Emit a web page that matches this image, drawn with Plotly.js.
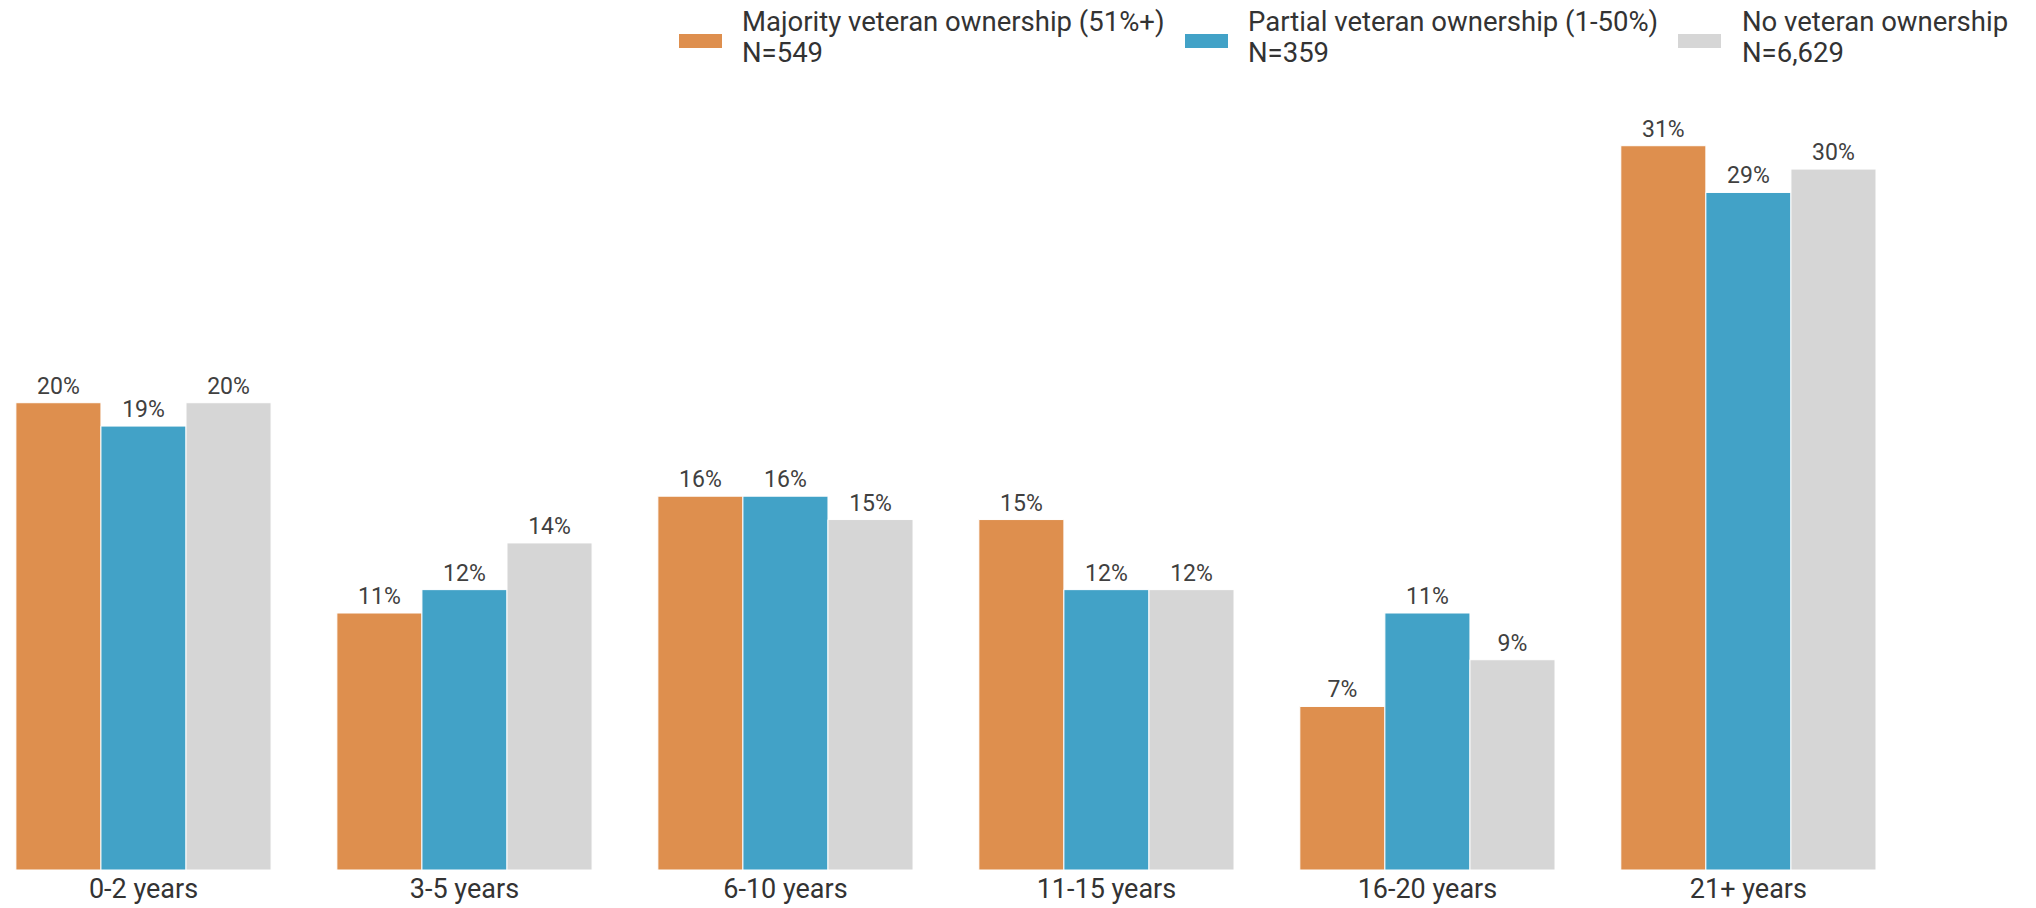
<!DOCTYPE html>
<html>
<head>
<meta charset="utf-8">
<script src="https://cdn.plot.ly/plotly-3.0.1.min.js"></script>
<style>html,body{margin:0;padding:0;background:#fff;}#chart{width:2036px;height:908px;}</style>
</head>
<body>
<div id="chart"></div>
<script>
const categories = ["0-2 years", "3-5 years", "6-10 years", "11-15 years", "16-20 years", "21+ years"];
const seriesNames = ["Majority veteran ownership (51%+)", "Partial veteran ownership (1-50%)", "No veteran ownership"];
const seriesN = ["N=549", "N=359", "N=6,629"];
const majorityValues = [20, 11, 16, 15, 7, 31];
const partialValues = [19, 12, 16, 12, 11, 29];
const noneValues = [20, 14, 15, 12, 9, 30];
const seriesColors = ["#DE8F4E", "#42A2C7", "#D6D6D6"];

const W = 2036, H = 908;
const marginT = 99, marginB = 38;
const plotH = H - marginT - marginB;
const yMax = 33;

const allValues = [majorityValues, partialValues, noneValues];
const traces = allValues.map((vals, i) => ({
  type: "bar",
  x: categories,
  y: vals,
  name: seriesNames[i],
  marker: {color: seriesColors[i], line: {color: "#ffffff", width: 1}},
  text: vals.map(v => v + "%"),
  textposition: "outside",
  textfont: {family: "Roboto, sans-serif", size: 23, color: "#404040"},
  outsidetextfont: {family: "Roboto, sans-serif", size: 23, color: "#404040"},
  constraintext: "none",
  cliponaxis: false,
  hoverinfo: "x+y+name",
  showlegend: false
}));

// custom legend (pixel positions converted to paper coords)
function px2x(px) { return px / W; }
function py2y(py) { return (H - marginB - py) / plotH; }
const legendSwatchX = [679, 1185, 1678];
const legendTextX = [740, 1246, 1740];
const legendFont = {family: "Roboto, sans-serif", size: 27.5, color: "#333333"};
const shapes = [];
const annotations = [];
for (let i = 0; i < 3; i++) {
  shapes.push({
    type: "rect", xref: "paper", yref: "paper",
    x0: px2x(legendSwatchX[i]), x1: px2x(legendSwatchX[i] + 43),
    y0: py2y(48), y1: py2y(34),
    fillcolor: seriesColors[i], line: {width: 0}
  });
  annotations.push({
    xref: "paper", yref: "paper",
    x: px2x(legendTextX[i]), y: py2y(22),
    xanchor: "left", yanchor: "middle", align: "left",
    showarrow: false,
    text: seriesNames[i],
    font: legendFont
  });
  annotations.push({
    xref: "paper", yref: "paper",
    x: px2x(legendTextX[i]), y: py2y(53),
    xanchor: "left", yanchor: "middle", align: "left",
    showarrow: false,
    text: seriesN[i],
    font: legendFont
  });
}

const layout = {
  width: W, height: H,
  margin: {l: 0, r: 0, t: marginT, b: marginB, pad: 0},
  paper_bgcolor: "#ffffff",
  plot_bgcolor: "#ffffff",
  barmode: "group",
  bargap: 0.205,
  bargroupgap: 0,
  xaxis: {
    type: "category",
    range: [-0.447, 5.896],
    showgrid: false, zeroline: false, showline: false, ticks: "",
    tickfont: {family: "Roboto, sans-serif", size: 27, color: "#333333"},
    automargin: false
  },
  yaxis: {
    range: [0, yMax],
    visible: false,
    showgrid: false, zeroline: false
  },
  showlegend: false,
  shapes: shapes,
  annotations: annotations,
  font: {family: "Roboto, sans-serif"}
};

Plotly.newPlot("chart", traces, layout, {displayModeBar: false, responsive: false});
</script>
</body>
</html>
